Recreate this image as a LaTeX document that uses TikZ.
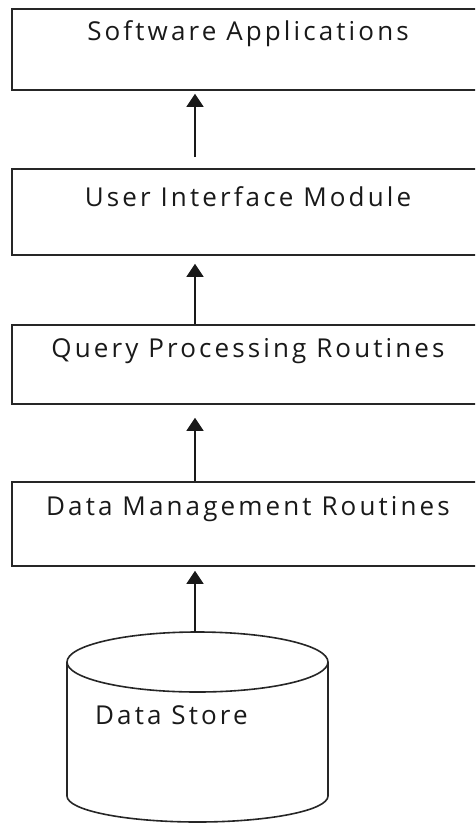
\documentclass[tikz,border=0pt]{standalone}
\usepackage{fontspec}
\setmainfont{Open Sans}[LetterSpace=12]
\usetikzlibrary{arrows.meta}
\begin{document}
\begin{tikzpicture}[x=1pt,y=-1pt,
  box/.style={draw=black!85,line width=1.6pt,rectangle,minimum width=472pt,inner sep=0pt},
  lbl/.style={anchor=center,font=\fontsize{26}{29}\selectfont,text=black!90},
  conn/.style={line width=1.6pt,draw=black!90,-{Triangle[width=17pt,length=13pt]}}]
\useasboundingbox (0,0) rectangle (475,825);
\clip (0,0) rectangle (475,825);
\coordinate (ax) at (195,0);
\node[box,minimum height=81pt] (b1) at (248,49.5) {};
\node[box,minimum height=86pt] (b2) at (248,212) {};
\node[box,minimum height=79pt] (b3) at (248,364.5) {};
\node[box,minimum height=84pt] (b4) at (248,524) {};
\node[lbl] (t1) at ([yshift=-25pt]b1.north) {Software Applications};
\node[lbl] (t2) at ([yshift=-28pt]b2.north) {User Interface Module};
\node[lbl] (t3) at ([yshift=-27pt]b3.north) {Query Processing Routines};
\node[lbl] (t4) at ([yshift=-28pt]b4.north) {Data Management Routines};
% cylinder
\coordinate (ds) at (197.5,632);
\draw[line width=1.6pt,draw=black!85] (67,662) arc[start angle=180,end angle=0,x radius=130.5,y radius=30]
  arc[start angle=0,end angle=-180,x radius=130.5,y radius=30];
\draw[line width=1.6pt,draw=black!85] (67,662) -- (67,796) arc[start angle=180,end angle=0,x radius=130.5,y radius=26] -- (328,662);
\node[lbl,anchor=west,inner sep=0pt] (t5) at (95,715) {Data Store};
% arrows
\draw[conn,shorten <=11pt,shorten >=3pt] (b2.north -| ax) -- (b1.south -| ax);
\draw[conn,shorten >=8pt] (b3.north -| ax) -- (b2.south -| ax);
\draw[conn,shorten >=13pt] (b4.north -| ax) -- (b3.south -| ax);
\draw[conn,shorten >=4pt] (ds -| ax) -- (b4.south -| ax);
\end{tikzpicture}
\end{document}
